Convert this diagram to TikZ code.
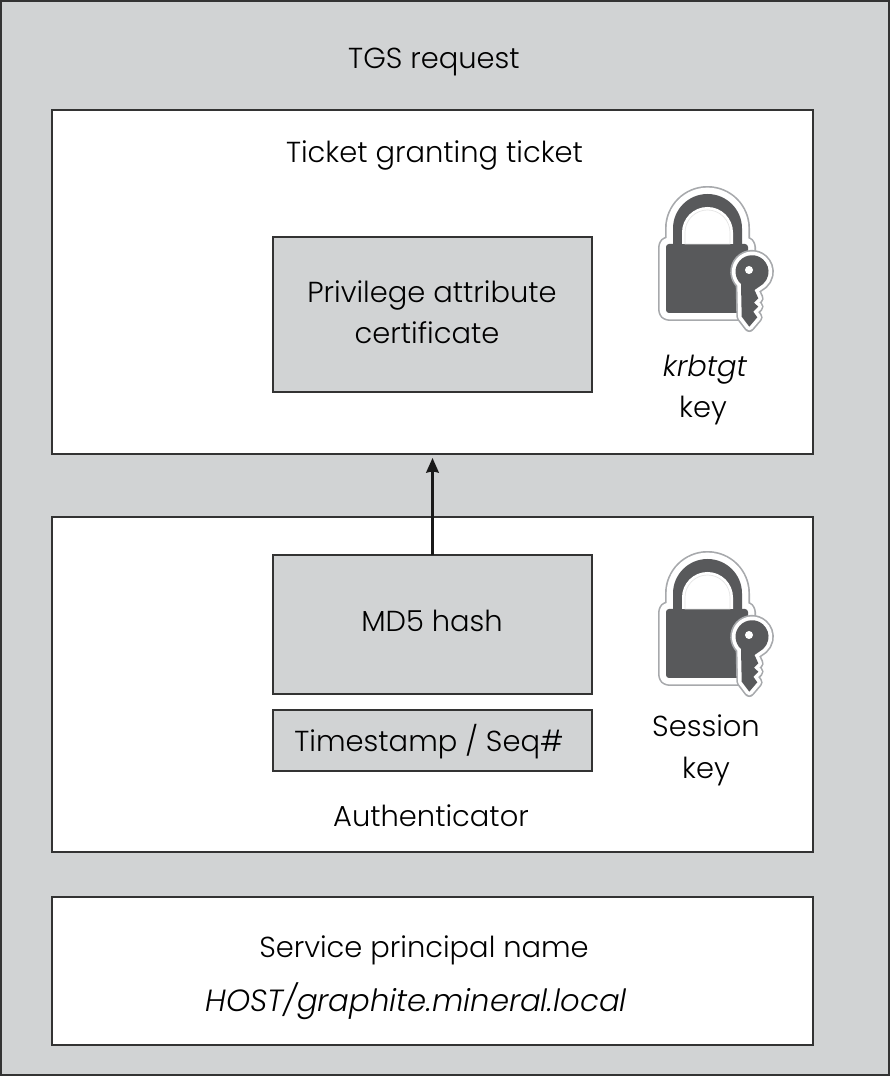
\documentclass[tikz,border=0pt]{standalone}
\usepackage{fontspec}
\setmainfont{Poppins Light}[ItalicFont=Poppins Light Italic]
\usetikzlibrary{arrows.meta}
\definecolor{boxgray}{HTML}{D1D3D4}
\definecolor{lockdark}{HTML}{58595B}
\definecolor{lockedge}{HTML}{A7A9AC}
\tikzset{
        txt/.style={anchor=base,align=center,font=\fontsize{21.7}{31}\selectfont},
        box/.style 2 args={draw=black!80,line width=.8pt,inner sep=0pt,outer sep=0pt,minimum width=#1*.75pt,minimum height=#2*.75pt},
        padlock/.pic={
                \def\bodypath{(-39,13) -- (-39,-50) arc (180:270:3) -- (40,-53) arc (270:360:3) -- (43,13) arc (0:90:3) -- (-36,16) arc (90:180:3) -- cycle}
                \def\shacklepath{(-32,16) -- (-32,31.5) arc (180:0:34.5) -- (37,16) -- cycle}
                \def\openingpath{(-23,16) -- (-23,27.5) arc (180:0:25.5) -- (28,16) -- cycle}
                \def\keypath{(36,-24) arc (228:-48:16.5) -- (49.5,-30) -- (53.3,-38.3) -- (49,-42.7) -- (53.3,-46.7) -- (48.3,-51.7) -- (52.3,-57.3) -- (44.3,-66.7) -- (36.7,-56.7) -- cycle}
                \draw[lockedge,line width=12pt,line join=round] \bodypath;
                \draw[lockedge,line width=12pt,line join=round] \shacklepath;
                \draw[white,line width=9.5pt,line join=round] \bodypath;
                \draw[white,line width=9.5pt,line join=round] \shacklepath;
                \fill[lockdark] \bodypath;
                \fill[lockdark] \shacklepath;
                \fill[white] \openingpath;
                \draw[black!10,line width=.5pt] (-20,16) -- (-20,27.5) arc (180:0:22.5) -- (25,16) -- cycle;
                \draw[lockedge,line width=8pt,line join=round] \keypath;
                \draw[white,line width=5.5pt,line join=round] \keypath;
                \fill[lockdark] \keypath;
                \fill[white] (44,-10) circle (4);
        }
}
\begin{document}
\begin{tikzpicture}[x=.75pt,y=.75pt]
        \useasboundingbox (0,0) rectangle (890,1076);

        \node[box={888}{1074},fill=boxgray] (tgsrequest) at (445,538) {};
        \node[box={761}{344},fill=white] (ticket) at (432.5,794) {};
        \node[box={319}{155},fill=boxgray] (pac) at (432.5,761.5) {};
        \node[box={761}{335},fill=white] (authenticator) at (432.5,391.5) {};
        \node[box={319}{139},fill=boxgray] (md5) at (432.5,451.5) {};
        \node[box={319}{61},fill=boxgray] (timestamp) at (432.5,335.5) {};
        \node[box={761}{148},fill=white] (spn) at (432.5,105) {};

        \node[txt] (tgslabel) at (434,1007) {TGS request};
        \node[txt] (ticketlabel) at (434.5,913) {Ticket granting ticket};
        \node[txt] (pacline1) at (432,773) {Privilege attribute};
        \node[txt] (pacline2) at (427,732) {certificate};
        \node[txt] (krbtgtlabel) at (705,699) {\itshape krbtgt};
        \node[txt] (krbtgtkey) at (703,658) {key};
        \node[txt] (md5label) at (432,444) {MD5 hash};
        \node[txt] (timestamplabel) at (429,324) {Timestamp / Seq\#};
        \node[txt] (sessionlabel) at (706,339) {Session};
        \node[txt] (sessionkey) at (706,297) {key};
        \node[txt] (authlabel) at (431,249) {Authenticator};
        \node[txt] (spnlabel) at (424,118) {Service principal name};
        \node[txt,font=\fontsize{23}{31}\selectfont] (hostlabel) at (416,64) {\itshape HOST/graphite.mineral.local};

        \pic (lockticket) at (705,816) {padlock};
        \pic (locksession) at (705,451) {padlock};

        \coordinate (arrowend) at (432.5,618);
        \draw[-{Stealth[length=11pt,width=9.5pt,inset=1pt]},line width=1.7pt,black!90] (md5.north) -- (arrowend);
\end{tikzpicture}
\end{document}
